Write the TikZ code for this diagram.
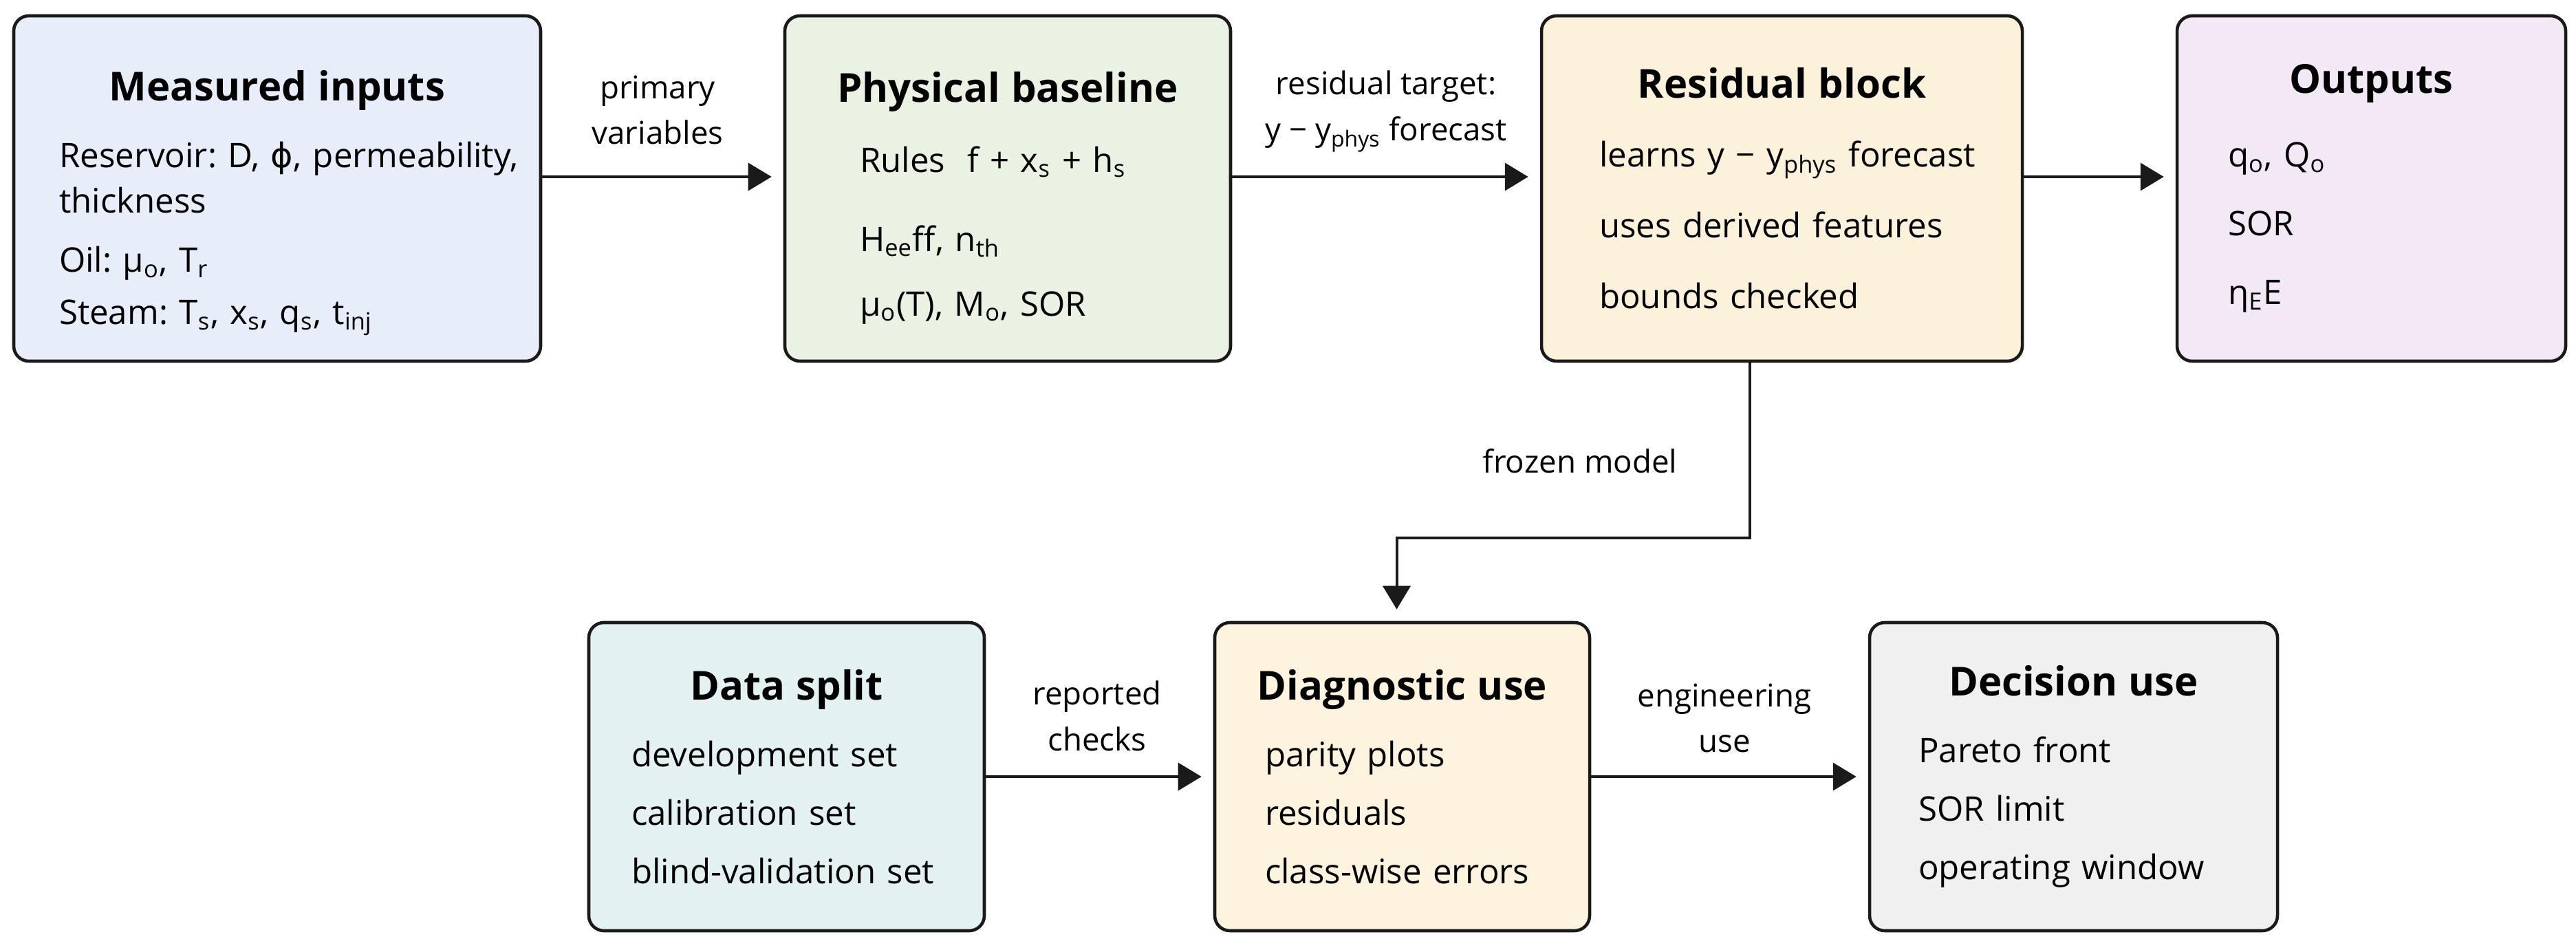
\documentclass[tikz,border=0pt]{standalone}
\usepackage{fontspec}
\setmainfont{Open Sans}
\newfontfamily\symfont{DejaVu Sans}
\usetikzlibrary{arrows.meta}
\definecolor{inputbg}{HTML}{E7EEF9}
\definecolor{physbg}{HTML}{EAF3E3}
\definecolor{residbg}{HTML}{FCF1DB}
\definecolor{outbg}{HTML}{F3E8F6}
\definecolor{splitbg}{HTML}{E4F1F2}
\definecolor{diagbg}{HTML}{FDF3DF}
\definecolor{decibg}{HTML}{F0F0F0}
\definecolor{edge}{HTML}{1A1A1A}
\newcommand{\cardhead}[1]{\noindent\makebox[\hsize]{\fontsize{16.5}{20}\selectfont\bfseries #1}}
\newcommand{\sbs}[1]{\textsubscript{#1}}
\tikzset{
  card/.style={draw=edge,line width=1.3pt,rounded corners=0.22cm,align=left,inner ysep=0pt,
    font=\fontsize{14}{18.8}\selectfont\frenchspacing},
  flow/.style={draw=edge,line width=1.15pt,-{Triangle[length=0.34cm,width=0.40cm]},shorten >=0.17cm},
  tag/.style={align=center,inner sep=0pt,font=\fontsize{13}{19}\selectfont}
}

\begin{document}
\begin{tikzpicture}
\fill[white] (0,0) rectangle (37.45,-13.80);
\useasboundingbox (0,0) rectangle (37.45,-13.80);

% top row
\node[card,fill=inputbg,text width=6.34cm,inner xsep=0.66cm,minimum height=5.02cm] (inputs) at (4.03,-2.74) {
\vspace*{0.2cm}
\cardhead{Measured inputs}\\[0.31cm]
\mbox{Reservoir: D, {\symfont ϕ}, permeability,}\\
thickness\\[0.2cm]
Oil: μ\sbs{o}, T\sbs{r}\\[0.1cm]
Steam: T\sbs{s}, x\sbs{s}, q\sbs{s}, t\sbs{inj}};

\node[card,fill=physbg,text width=4.30cm,inner xsep=1.09cm,minimum height=5.02cm] (baseline) at (14.65,-2.74) {
\vspace*{0.05cm}
\cardhead{Physical baseline}\\[0.36cm]
Rules\hspace{0.65em}f + x\sbs{s} + h\sbs{s}\\[0.49cm]
H\sbs{ee}ff, n\sbs{th}\\[0.28cm]
μ\sbs{o}(T), M\sbs{o}, SOR};

\node[card,fill=residbg,text width=5.31cm,inner xsep=0.84cm,minimum height=5.02cm] (residual) at (25.905,-2.74) {
\cardhead{Residual block}\\[0.34cm]
\mbox{learns y − y\sbs{phys} forecast}\\[0.37cm]
uses derived features\\[0.37cm]
bounds checked};

\node[card,fill=outbg,text width=4.17cm,inner xsep=0.74cm,minimum height=5.02cm] (outputs) at (34.475,-2.74) {
\cardhead{Outputs}\\[0.41cm]
q\sbs{o}, Q\sbs{o}\\[0.34cm]
SOR\\[0.34cm]
η\sbs{E}E};

% bottom row
\node[card,fill=splitbg,text width=4.51cm,inner xsep=0.62cm,minimum height=4.48cm] (split) at (11.435,-11.29) {
\cardhead{Data split}\\[0.31cm]
development set\\[0.19cm]
calibration set\\[0.19cm]
blind-validation set};

\node[card,fill=diagbg,text width=3.99cm,inner xsep=0.73cm,minimum height=4.48cm] (diag) at (20.385,-11.29) {
\cardhead{Diagnostic use}\\[0.31cm]
parity plots\\[0.19cm]
residuals\\[0.19cm]
class-wise errors};

\node[card,fill=decibg,text width=4.51cm,inner xsep=0.71cm,minimum height=4.48cm] (decision) at (30.145,-11.29) {
\cardhead{Decision use}\\[0.31cm]
Pareto front\\[0.19cm]
SOR limit\\[0.19cm]
operating window};

% connectors
\draw[flow] ([yshift=0.17cm]inputs.east) -- ([yshift=0.17cm]baseline.west);
\draw[flow] ([yshift=0.17cm]baseline.east) -- ([yshift=0.17cm]residual.west);
\draw[flow] ([yshift=0.17cm]residual.east) -- ([yshift=0.17cm]outputs.west);
\draw[flow] ([xshift=-0.47cm]residual.south) -- ++(0,-2.55) -| ([xshift=-0.08cm]diag.north);
\draw[flow] (split) -- (diag);
\draw[flow] (diag) -- (decision);

% labels
\node[tag] (primlbl) at (9.56,-1.60) {primary\\variables};
\node[tag] (targetlbl) at (20.15,-1.62) {residual target:\\y − y\sbs{phys} forecast};
\node[tag] (frozenlbl) at (22.97,-6.70) {frozen model};
\node[tag] (reportlbl) at (15.95,-10.41) {reported\\checks};
\node[tag] (englbl) at (25.07,-10.44) {engineering\\use};
\end{tikzpicture}
\end{document}
